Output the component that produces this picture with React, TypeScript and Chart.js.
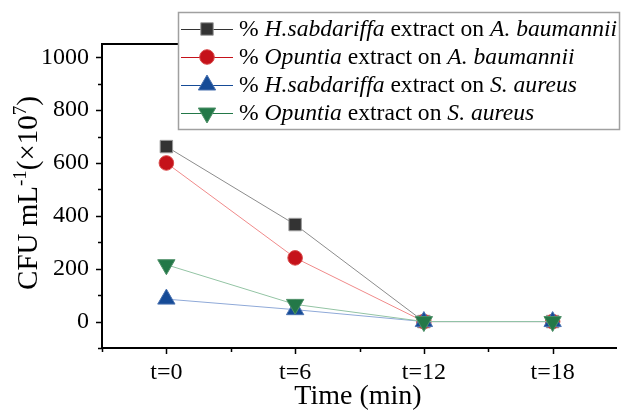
import React, { useEffect, useRef } from 'react';
import { Chart, registerables } from 'chart.js';

Chart.register(...registerables);

const categories = ['t=0', 't=6', 't=12', 't=18'];
const hsAbValues = [662, 367, 0, 0];
const opAbValues = [600, 241, 0, 0];
const hsSaValues = [85, 45, 0, 0];
const opSaValues = [215, 65, 0, 0];
const yMajorTicks = [0, 200, 400, 600, 800, 1000];
const yMinorTicks = [-100, 100, 300, 500, 700, 900];
const xTitle = 'Time (min)';

type Seg = [string, boolean];
const legendRows: Seg[][] = [
  [['% ', false], ['H.sabdariffa', true], [' extract on ', false], ['A. baumannii', true]],
  [['% ', false], ['Opuntia', true], [' extract on ', false], ['A. baumannii', true]],
  [['% ', false], ['H.sabdariffa', true], [' extract on ', false], ['S. aureus', true]],
  [['% ', false], ['Opuntia', true], [' extract on ', false], ['S. aureus', true]],
];

const SERIF = '"Liberation Serif", "Times New Roman", serif';
Chart.defaults.font.family = SERIF;
Chart.defaults.color = '#000';

const markerColors = ['#333333', '#c5121a', '#164b97', '#237848'];
const markerBorders = ['#9a9a9a', '#d84a4a', '#4a72b0', '#4f9068'];
const lineColors = ['#8c8c8c', '#f08a8a', '#8fa9d8', '#93c4a4'];
const pointStyles = ['rect', 'circle', 'triangle', 'triangle'];
const pointRadii = [8.8, 7.3, 10, 10];
const pointRotations = [0, 0, 0, 180];

function drawMarker(ctx: CanvasRenderingContext2D, style: string, x: number, y: number, r: number, rot: number, fill: string, border: string) {
  ctx.save();
  ctx.fillStyle = fill;
  ctx.strokeStyle = border;
  ctx.lineWidth = 1;
  ctx.beginPath();
  if (style === 'rect') {
    const s = Math.SQRT1_2 * r;
    ctx.rect(x - s, y - s, 2 * s, 2 * s);
  } else if (style === 'circle') {
    ctx.arc(x, y, r, 0, Math.PI * 2);
  } else {
    let rad = (rot * Math.PI) / 180;
    ctx.moveTo(x + Math.sin(rad) * r, y - Math.cos(rad) * r);
    rad += (2 * Math.PI) / 3;
    ctx.lineTo(x + Math.sin(rad) * r, y - Math.cos(rad) * r);
    rad += (2 * Math.PI) / 3;
    ctx.lineTo(x + Math.sin(rad) * r, y - Math.cos(rad) * r);
    ctx.closePath();
  }
  ctx.fill();
  ctx.stroke();
  ctx.restore();
}

const axesPlugin = {
  id: 'customAxes',
  beforeDatasetsDraw(chart: any) {
    const { ctx, chartArea, scales } = chart;
    const x = scales.x;
    const y = scales.y;
    ctx.save();
    ctx.strokeStyle = '#000';
    ctx.lineWidth = 2;
    ctx.beginPath();
    ctx.moveTo(chartArea.left, chartArea.top);
    ctx.lineTo(chartArea.left, chartArea.bottom);
    ctx.moveTo(chartArea.left - 1, chartArea.bottom);
    ctx.lineTo(chartArea.right, chartArea.bottom);
    ctx.moveTo(chartArea.left - 1, chartArea.top);
    ctx.lineTo(chartArea.right, chartArea.top);
    ctx.stroke();
    ctx.lineWidth = 1.5;
    ctx.beginPath();
    yMajorTicks.forEach((v) => {
      const py = Math.round(y.getPixelForValue(v)) + 0.5;
      ctx.moveTo(chartArea.left, py);
      ctx.lineTo(chartArea.left - 6, py);
    });
    yMinorTicks.forEach((v) => {
      const py = Math.round(y.getPixelForValue(v)) + 0.5;
      ctx.moveTo(chartArea.left, py);
      ctx.lineTo(chartArea.left - 4, py);
    });
    const half = (x.getPixelForValue(1) - x.getPixelForValue(0)) / 2;
    categories.forEach((_, i) => {
      const px = Math.round(x.getPixelForValue(i)) + 0.5;
      ctx.moveTo(px, chartArea.bottom);
      ctx.lineTo(px, chartArea.bottom + 6);
      const bx = Math.round(x.getPixelForValue(i) - half) + 0.5;
      ctx.moveTo(bx, chartArea.bottom);
      ctx.lineTo(bx, chartArea.bottom + 4);
    });
    ctx.stroke();
    ctx.restore();
  },
};

const titlesPlugin = {
  id: 'customTitles',
  afterDraw(chart: any) {
    const { ctx } = chart;
    ctx.save();
    ctx.fillStyle = '#000';
    ctx.font = `28px ${SERIF}`;
    ctx.textAlign = 'center';
    ctx.textBaseline = 'alphabetic';
    ctx.fillText(xTitle, 358, 404);
    const parts: [string, boolean][] = [
      ['CFU mL', false],
      ['-1', true],
      ['(\u00d710', false],
      ['7', true],
      [')', false],
    ];
    const mainFont = `29px ${SERIF}`;
    const supFont = `19px ${SERIF}`;
    let total = 0;
    parts.forEach(([t, sup]) => {
      ctx.font = sup ? supFont : mainFont;
      total += ctx.measureText(t).width;
    });
    ctx.translate(37, 193);
    ctx.rotate(-Math.PI / 2);
    ctx.textAlign = 'left';
    let cx = -total / 2;
    parts.forEach(([t, sup]) => {
      ctx.font = sup ? supFont : mainFont;
      ctx.fillText(t, cx, sup ? -11 : 0);
      cx += ctx.measureText(t).width;
    });
    ctx.restore();
  },
};

const legendPlugin = {
  id: 'customLegend',
  afterDraw(chart: any) {
    const { ctx } = chart;
    ctx.save();
    const bx = 178.5, by = 12.5, bw = 441, bh = 117;
    ctx.fillStyle = '#fff';
    ctx.fillRect(bx, by, bw, bh);
    ctx.strokeStyle = '#a0a0a0';
    ctx.lineWidth = 1.5;
    ctx.strokeRect(bx, by, bw, bh);
    legendRows.forEach((segs, i) => {
      const ry = 29 + i * 28;
      ctx.strokeStyle = markerColors[i];
      ctx.lineWidth = 1;
      ctx.beginPath();
      ctx.moveTo(181, ry + 0.5);
      ctx.lineTo(233, ry + 0.5);
      ctx.stroke();
      drawMarker(ctx, pointStyles[i], 207, ry, pointRadii[i], pointRotations[i], markerColors[i], markerBorders[i]);
      let tx = 239;
      ctx.fillStyle = '#000';
      ctx.textBaseline = 'middle';
      ctx.textAlign = 'left';
      segs.forEach(([t, it]) => {
        ctx.font = `${it ? 'italic ' : ''}23.6px ${SERIF}`;
        ctx.fillText(t, tx, ry + 1);
        tx += ctx.measureText(t).width;
      });
    });
    ctx.restore();
  },
};

export default function App() {
  const ref = useRef<HTMLCanvasElement | null>(null);
  useEffect(() => {
    if (!ref.current) return;
    const series = [hsAbValues, opAbValues, hsSaValues, opSaValues];
    const chart = new Chart(ref.current, {
      type: 'line',
      data: {
        labels: categories,
        datasets: series.map((vals, i) => ({
          label: legendRows[i].map((s) => s[0]).join(''),
          data: vals,
          borderColor: lineColors[i],
          borderWidth: 1,
          backgroundColor: markerColors[i],
          pointBackgroundColor: markerColors[i],
          pointBorderColor: markerBorders[i],
          pointBorderWidth: 1,
          pointStyle: pointStyles[i] as any,
          pointRadius: pointRadii[i],
          pointRotation: pointRotations[i],
          pointHoverRadius: pointRadii[i],
          tension: 0,
          fill: false,
          order: 4 - i,
          clip: false as any,
        })),
      },
      plugins: [axesPlugin, titlesPlugin, legendPlugin],
      options: {
        animation: false,
        responsive: false,
        maintainAspectRatio: false,
        layout: { padding: { top: 44, right: 0, left: 0, bottom: 0 } },
        plugins: {
          legend: { display: false },
          tooltip: { enabled: false },
        },
        scales: {
          x: {
            type: 'category',
            offset: true,
            grid: { display: false, drawTicks: false },
            border: { display: false },
            ticks: {
              padding: 10,
              color: '#000',
              font: { family: SERIF, size: 24 },
              maxRotation: 0,
              autoSkip: false,
            },
            afterFit(scale: any) {
              scale.height = 62;
            },
          },
          y: {
            min: -100,
            max: 1050,
            grid: { display: false, drawTicks: false },
            border: { display: false },
            afterBuildTicks(scale: any) {
              scale.ticks = yMajorTicks.map((v) => ({ value: v }));
            },
            ticks: {
              padding: 13,
              color: '#000',
              font: { family: SERIF, size: 24 },
              callback: (v: any) => String(v),
            },
            afterFit(scale: any) {
              scale.width = 102;
            },
          },
        },
      },
    });
    return () => chart.destroy();
  }, []);
  return (
    <div style={{ position: 'absolute', left: 0, top: 0, width: 623, height: 410, overflow: 'hidden', background: '#fff' }}>
      <canvas ref={ref} width={628} height={410} style={{ display: 'block' }} />
    </div>
  );
}
